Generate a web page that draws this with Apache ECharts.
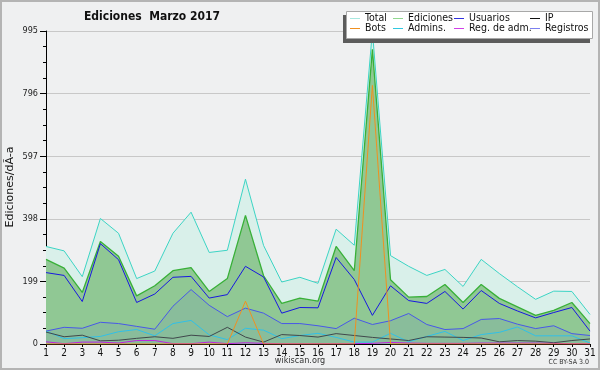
<!DOCTYPE html>
<html><head><meta charset="utf-8">
<script src="https://cdn.jsdelivr.net/npm/echarts@6/dist/echarts.min.js"></script>
<style>html,body{margin:0;padding:0;background:#eff0f1;}#c{width:600px;height:370px;}</style>
</head><body><div id="c"></div>
<script>
const days = ['1','2','3','4','5','6','7','8','9','10','11','12','13','14','15','16','17','18','19','20','21','22','23','24','25','26','27','28','29','30','31'];
const yTicks = [0,199,398,597,796,995];
const yName = 'Ediciones/dÃ-a';
const total     = [310,296,214,399,352,208,232,352,419,291,298,524,313,197,212,193,365,314,995,281,247,218,237,183,269,224,182,142,168,167,94];
const ediciones = [269,241,164,326,279,153,185,233,243,167,208,409,217,129,146,136,310,233,937,204,149,151,189,132,189,145,118,91,107,132,65];
const usuarios  = [227,218,135,319,268,132,159,212,215,146,157,247,213,98,116,115,275,205,91,185,138,129,167,111,170,129,105,83,100,116,41];
const ip        = [38,23,28,10,12,18,23,18,28,24,53,22,6,30,27,22,33,27,21,16,11,23,22,21,19,7,11,9,4,11,16];
const bots      = [0,0,0,0,0,0,0,0,0,0,0,136,0,0,0,0,0,0,822,0,0,0,0,0,0,0,0,0,0,0,0];
const admins    = [41,17,20,24,39,46,26,65,75,29,14,50,44,17,27,34,21,6,6,34,7,24,40,11,30,37,54,26,26,26,3];
const regAdm    = [7,1,6,6,3,11,11,1,1,6,1,4,2,1,1,1,1,1,2,5,3,2,2,2,3,3,3,3,2,1,1];
const registros = [41,53,50,69,65,56,47,120,173,123,87,114,98,65,65,58,49,82,62,74,97,62,46,49,78,81,63,49,58,33,27];

const FONT = '"DejaVu Sans Condensed","DejaVu Sans",sans-serif';
const chart = echarts.init(document.getElementById('c'), null, {renderer:'canvas'});

function ln(name, data, color, width, area, z){
  const s = {name, type:'line', data, symbol:'none', silent:true, z:z||2,
    lineStyle:{color, width:width||1}, itemStyle:{color}, emphasis:{disabled:true}};
  if (area) s.areaStyle = {color: area, opacity: 1};
  return s;
}
function leg(name, color, left, top){
  return {data:[{name, itemStyle:{color}}], left, top, icon:'rect', itemWidth:10, itemHeight:1,
    padding:0, itemGap:0, selectedMode:false, zlevel:2, z:100,
    textStyle:{fontFamily:FONT, fontSize:10.5, color:'#111', padding:[0,0,0,0]}};
}

chart.setOption({
  backgroundColor:'#eff0f1',
  animation:false,
  grid:{left:46, right:10, top:31, bottom:26, containLabel:false, outerBoundsMode:'none'},
  xAxis:{type:'category', data:days, boundaryGap:false,
    axisLine:{lineStyle:{color:'#000', width:1}},
    axisTick:{show:true, length:3, lineStyle:{color:'#000'}, interval:0},
    axisLabel:{interval:0, margin:4, color:'#111', fontFamily:FONT, fontSize:10},
    splitLine:{show:false}},
  yAxis:{type:'value', min:yTicks[0], max:yTicks[yTicks.length-1], interval:yTicks[1]-yTicks[0],
    axisLine:{show:true, lineStyle:{color:'#000', width:1}},
    axisTick:{show:true, length:6, lineStyle:{color:'#000'}},
    minorTick:{show:true, splitNumber:4, length:3, lineStyle:{color:'#000'}},
    axisLabel:{margin:8, color:'#222', fontFamily:FONT, fontSize:9},
    splitLine:{show:true, lineStyle:{color:'#c8c8c8', width:1}}},
  legend:[
    leg('Total', '#a8e8e0', 350, 13),
    leg('Ediciones', '#90d890', 393, 13),
    leg('Usuarios', '#3030e0', 454, 13),
    leg('IP', '#111111', 530, 13),
    leg('Bots', '#f09020', 350, 23),
    leg('Admins.', '#30c8e0', 393, 23),
    leg('Reg. de adm.', '#d040e8', 454, 23),
    leg('Registros', '#7c80f0', 530, 23)
  ],
  graphic:[
    {type:'rect', z:10, silent:true, shape:{x:1,y:1,width:598,height:368}, style:{fill:'none', stroke:'#b4b4b4', lineWidth:2}},
    {type:'text', z:10, silent:true, style:{text:'Ediciones  Marzo 2017', x:152, y:17, align:'center', verticalAlign:'middle', fontFamily:FONT, fontSize:12, fontWeight:'bold', fill:'#111'}},
    {type:'text', z:10, silent:true, x:10, y:187, rotation:Math.PI/2, style:{text:yName, x:0, y:0, align:'center', verticalAlign:'middle', fontFamily:'"DejaVu Sans",sans-serif', fontSize:11, fill:'#111'}},
    {type:'rect', zlevel:1, z:100, silent:true, shape:{x:343,y:15,width:247,height:28}, style:{fill:'#5c5c5c'}},
    {type:'rect', zlevel:1, z:101, silent:true, shape:{x:346.5,y:11.5,width:246,height:27}, style:{fill:'#ffffff', stroke:'#a8a8a8', lineWidth:1}},
    {type:'text', z:10, silent:true, style:{text:'wikiscan.org', x:300, y:361, align:'center', verticalAlign:'middle', fontFamily:FONT, fontSize:9, fill:'#333'}},
    {type:'text', z:10, silent:true, style:{text:'CC BY-SA 3.0', x:589, y:362, align:'right', verticalAlign:'middle', fontFamily:FONT, fontSize:7, fill:'#333'}}
  ],
  series:[
    ln('Total', total, '#3cd4c4', 1, '#d9f0ea', 1),
    ln('Ediciones', ediciones, '#38b038', 1.3, '#90c894', 2),
    ln('Registros', registros, '#4858e8', 1, 'rgba(70,80,230,0.09)', 3),
    ln('Usuarios', usuarios, '#1818e0', 1, null, 4),
    ln('Admins.', admins, '#30c0e8', 1, null, 4),
    ln('IP', ip, '#40484c', 1, null, 4),
    ln('Reg. de adm.', regAdm, '#c020e0', 1, null, 4),
    ln('Bots', bots, '#f09020', 1, null, 5)
  ]
});
</script></body></html>
